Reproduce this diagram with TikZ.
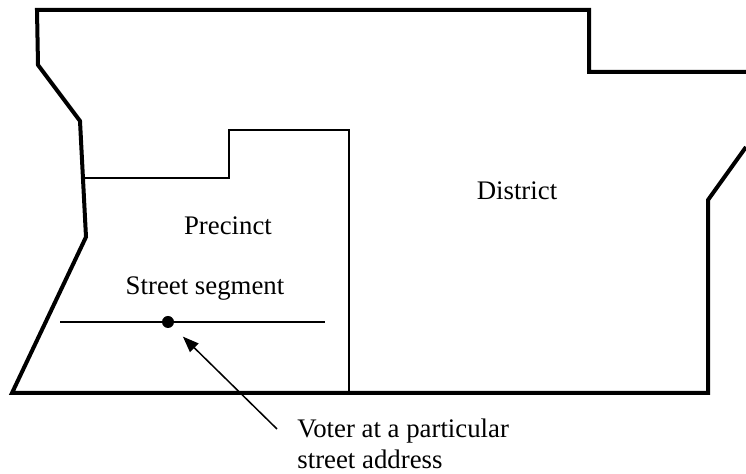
\documentclass[tikz,border=0pt]{standalone}
\usepackage{fontspec}
\setmainfont{Liberation Serif}
\usetikzlibrary{arrows.meta}
\tikzstyle{border} = [line width=2pt, line join=miter]
\tikzstyle{boundary} = [line width=0.75pt]
\tikzstyle{maptext} = [inner sep=0pt, anchor=base, font=\fontsize{13.4}{15.5}\selectfont]
\tikzstyle{arrow} = [line width=0.75pt, -{Triangle[length=8pt, width=6pt]}]

\begin{document}
\begin{tikzpicture}[x=0.5pt, y=-0.5pt]
    \useasboundingbox (0,0) rectangle (746,474);
    % district
    \draw[border] (746,147) -- (708,200) -- (708,393) -- (12,393) -- (86,237) -- (80,121) -- (38,65) -- (37,10) -- (589,10) -- (589,72) -- (746,72);
    % precinct
    \draw[boundary] (84,178) -- (229,178) -- (229,130) -- (349,130) -- (349,393);
    % street segment
    \draw[boundary] (60,322) -- (325,322);
    \node(voterdot)[circle, fill=black, inner sep=0pt, minimum size=6pt] at (168,322) {};
    \node(district)[maptext] at (517,200) {District};
    \node(precinct)[maptext] at (228,235) {Precinct};
    \node(segment)[maptext] at (205,295) {Street segment};
    \node(voter)[maptext, anchor=base west, align=left] at (297,469) {Voter at a particular\\street address};
    \coordinate(tail) at (277,429);
    \draw[arrow, shorten >=7.25pt](tail) -- (voterdot);
\end{tikzpicture}
\end{document}
